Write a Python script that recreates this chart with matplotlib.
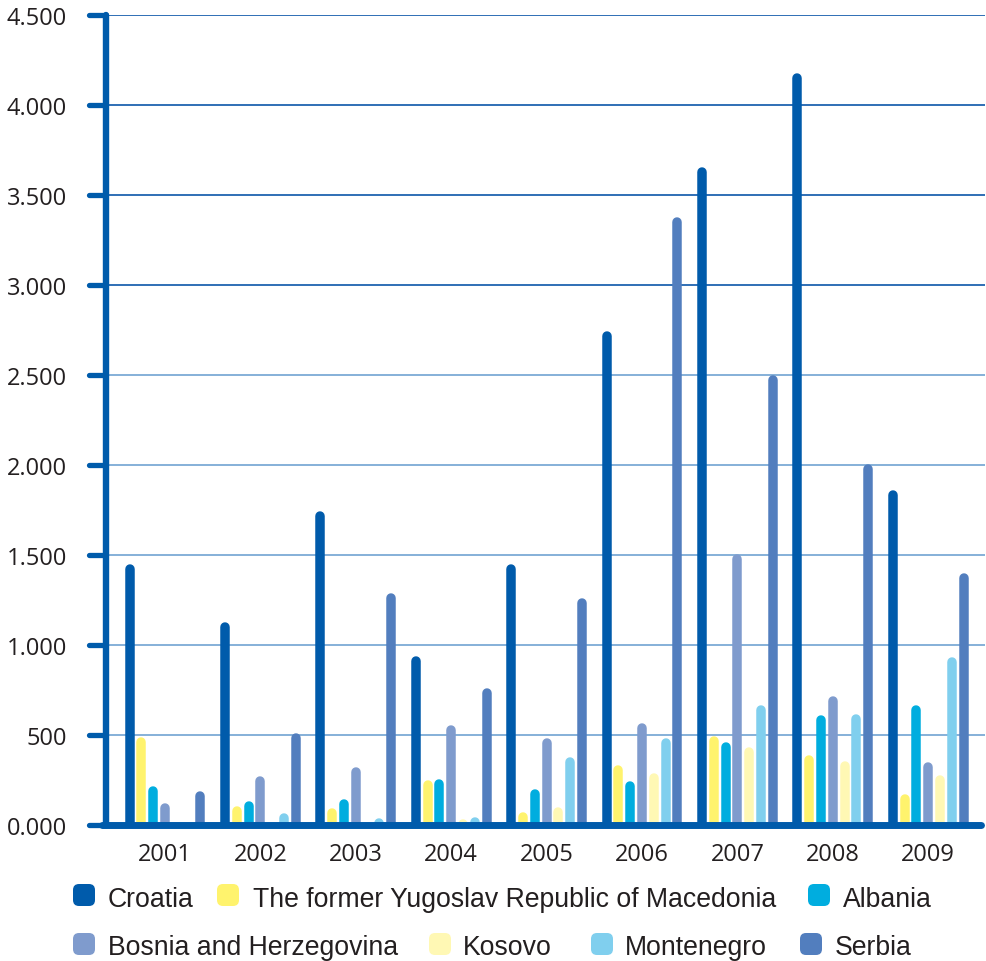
import matplotlib
matplotlib.use("Agg")
import matplotlib.pyplot as plt
from matplotlib.patches import FancyBboxPatch
from matplotlib.lines import Line2D

# ---- data -------------------------------------------------------------
years = ["2001", "2002", "2003", "2004", "2005", "2006", "2007", "2008", "2009"]
countries = ["Croatia", "The former Yugoslav Republic of Macedonia", "Albania",
             "Bosnia and Herzegovina", "Kosovo", "Montenegro", "Serbia"]

croatia    = [1450, 1128, 1744, 939, 1450, 2744, 3656, 4178, 1861]
macedonia  = [489, 106, 94, 250, 72, 333, 494, 389, 172]
albania    = [217, 133, 144, 256, 200, 244, 461, 611, 667]
bosnia     = [122, 272, 322, 556, 483, 567, 1506, 717, 350]
kosovo     = [0, 0, 0, 33, 100, 289, 433, 356, 278]
montenegro = [0, 67, 39, 44, 378, 483, 667, 617, 933]
serbia     = [189, 511, 1289, 761, 1261, 3378, 2500, 2006, 1400]

series = [croatia, macedonia, albania, bosnia, kosovo, montenegro, serbia]

y_ticks = [0, 500, 1000, 1500, 2000, 2500, 3000, 3500, 4000, 4500]
y_tick_labels = ["0.000", "500", "1.000", "1.500", "2.000", "2.500",
                 "3.000", "3.500", "4.000", "4.500"]

# ---- style ------------------------------------------------------------
colors = ["#005bab", "#fff36d", "#00addf", "#7f9bcd", "#fff8b4", "#80cfee", "#527ebe"]
axis_blue = "#005bab"
text_color = "#231f20"
W, H = 986, 962

fig = plt.figure(figsize=(W / 100, H / 100), dpi=100)
ax_left, ax_right, ax_top, ax_bottom = 106, 985, 16, 826
ax = fig.add_axes([ax_left / W, 1 - ax_bottom / H,
                   (ax_right - ax_left) / W, (ax_bottom - ax_top) / H])

group_px = 95.4          # distance between year groups (pixels)
first_center_px = 165    # centre of the first year group (pixels)
x0 = -(first_center_px - ax_left) / group_px
ax.set_xlim(x0, x0 + (ax_right - ax_left) / group_px)
ax.set_ylim(0, 4500)
for s in ax.spines.values():
    s.set_visible(False)

# gridlines
for v in y_ticks[1:]:
    gc = "#1f63b0" if v >= 3000 else "#7caad6"
    ax.axhline(v, color=gc, lw=1.3, zorder=1)

# bars drawn as thick lines with rounded tops
bar_px = 9.5
step = 11.8 / group_px
lw_pt = bar_px * 72 / 100
cap_data = (bar_px / 2) * 4500 / (ax_bottom - ax_top)
for j, (vals, c) in enumerate(zip(series, colors)):
    for i, v in enumerate(vals):
        if v <= 0:
            continue
        x = i + (j - 3) * step
        ax.plot([x, x], [0, max(v - cap_data, 0)], color=c, lw=lw_pt,
                solid_capstyle="round", zorder=3)

# axis lines and tick marks
ytr = ax.get_yaxis_transform()
axw = ax_right - ax_left
ax.add_line(Line2D([0, 0], [0, 4500], transform=ytr, color=axis_blue, lw=4.6,
                   solid_capstyle="round", zorder=5, clip_on=False))
for v in y_ticks:
    ax.add_line(Line2D([-17 / axw, 0], [v, v], transform=ytr, color=axis_blue,
                       lw=3.8, solid_capstyle="round", zorder=5, clip_on=False))
ax.add_line(Line2D([-4 / axw, 1 - 4 / axw], [0, 0], transform=ytr, color=axis_blue,
                   lw=5.0, solid_capstyle="round", zorder=6, clip_on=False))

ax.set_yticks(y_ticks)
ax.set_yticklabels(y_tick_labels)
ax.set_xticks(range(len(years)))
ax.set_xticklabels(years)
ax.tick_params(axis="y", length=0, pad=28, labelsize=17, labelcolor=text_color)
ax.tick_params(axis="x", length=0, pad=12, labelsize=17, labelcolor=text_color)
for lab in ax.get_xticklabels() + ax.get_yticklabels():
    lab.set_fontfamily("Open Sans")

# legend laid out in two flowing rows
lax = fig.add_axes([0, 0, 1, 1])
lax.set_xlim(0, W)
lax.set_ylim(H, 0)
lax.axis("off")
legend_rows = [
    (896, 907, [(0, 73, 108), (1, 217, 253), (2, 808, 843)]),
    (945, 955, [(3, 73, 108), (4, 429, 463), (5, 591, 625), (6, 800, 835)]),
]
for cy, base, items in legend_rows:
    for idx, mx, tx in items:
        lax.add_patch(FancyBboxPatch((mx, cy - 11), 22, 22,
                                     boxstyle="round,pad=0,rounding_size=6",
                                     fc=colors[idx], ec="none"))
        lax.text(tx, base, countries[idx], fontsize=19.2, family="Liberation Sans",
                 color=text_color, va="baseline", ha="left")

fig.savefig("out.png", dpi=100)
